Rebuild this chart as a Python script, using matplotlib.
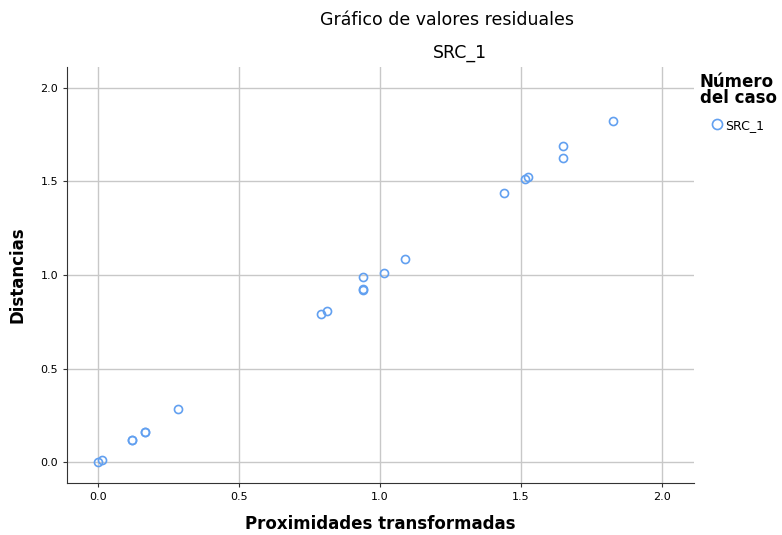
import numpy as np
import matplotlib.pyplot as plt

# valores
prox = [0.0, 0.014, 0.12, 0.12, 0.167, 0.167, 0.284, 0.79, 0.81, 0.94, 0.94, 0.94,
        1.014, 1.089, 1.44, 1.514, 1.525, 1.649, 1.649, 1.826]
dist = [0.0, 0.01, 0.118, 0.118, 0.163, 0.163, 0.283, 0.79, 0.806, 0.99, 0.925, 0.92,
        1.012, 1.086, 1.44, 1.513, 1.524, 1.69, 1.623, 1.823]
ticks = [0.0, 0.5, 1.0, 1.5, 2.0]

fig = plt.figure(figsize=(7.82, 5.35), dpi=100)
ax = fig.add_axes([0.0857, 0.0972, 0.8018, 0.7776])

ax.plot(prox, dist, 'o', mfc='none', mec='#62a0f0', ms=5.8, mew=1.2,
        label='SRC_1', zorder=3)

ax.set_xlim(-0.11, 2.113)
ax.set_ylim(-0.112, 2.112)
ax.set_xticks(ticks)
ax.set_yticks(ticks)
ax.set_xticklabels(['%.1f' % t for t in ticks], fontsize=8)
ax.set_yticklabels(['%.1f' % t for t in ticks], fontsize=8)
ax.grid(True, color='#c8c8c8', linewidth=1.0)
ax.set_axisbelow(True)
for s in ['top', 'right']:
    ax.spines[s].set_visible(False)
ax.spines['left'].set_color('#333333')
ax.spines['bottom'].set_color('#333333')
ax.tick_params(length=3, color='#333333')

fig.text(0.572, 0.962, 'Gráfico de valores residuales', ha='center', va='center', fontsize=12.5)
fig.text(0.588, 0.900, 'SRC_1', ha='center', va='center', fontsize=12.5)
fig.text(0.486, 0.020, 'Proximidades transformadas', ha='center', va='center',
         fontsize=12, fontweight='bold')
fig.text(0.023, 0.486, 'Distancias', ha='center', va='center', rotation=90,
         fontsize=12, fontweight='bold')

fig.text(0.895, 0.8, 'Número\ndel caso', ha='left', va='bottom', fontsize=12,
         fontweight='bold', linespacing=0.85)
leg = ax.legend(loc='center left', bbox_to_anchor=(1.026, 0.86), frameon=False,
                fontsize=9, handlelength=1, handletextpad=0.2, borderpad=0,
                borderaxespad=0, markerscale=1.25)

fig.savefig('out.png', dpi=100)
